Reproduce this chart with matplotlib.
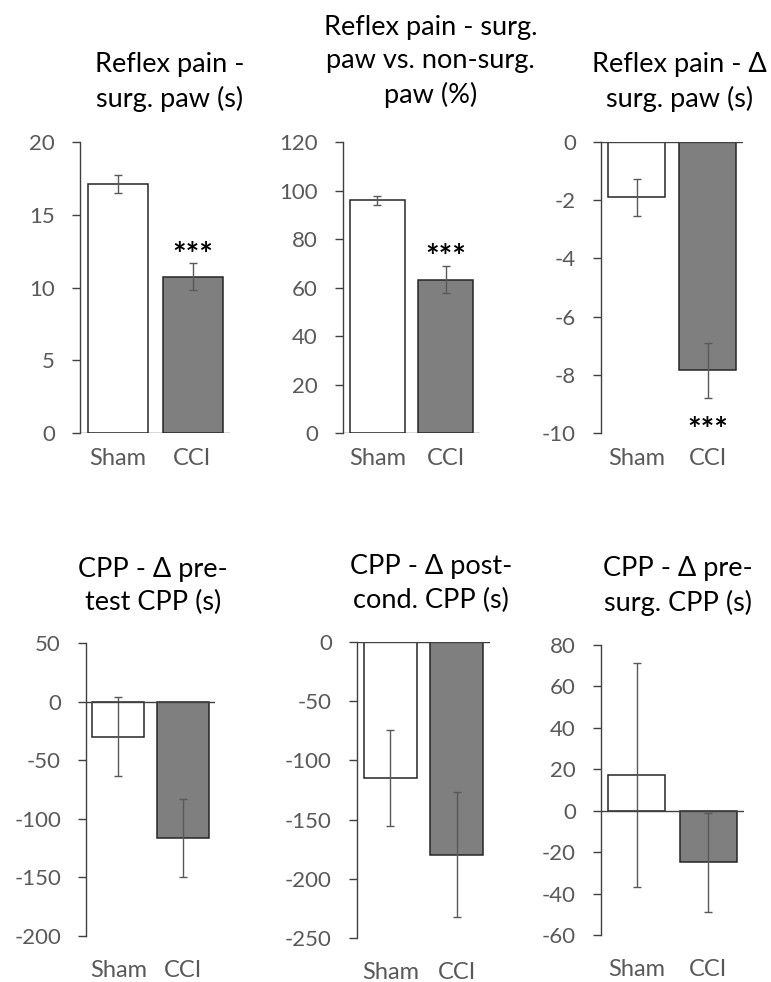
import matplotlib
matplotlib.use('Agg')
import matplotlib.pyplot as plt
import numpy as np

plt.rcParams['font.family'] = ['Lato', 'DejaVu Sans']
plt.rcParams['axes.unicode_minus'] = False

groups = ['Sham', 'CCI']

titles = [
    'Reflex pain -\nsurg. paw (s)',
    'Reflex pain - surg.\npaw vs. non-surg.\npaw (%)',
    'Reflex pain - \u0394\nsurg. paw (s)',
    'CPP - \u0394 pre-\ntest CPP (s)',
    'CPP - \u0394 post-\ncond. CPP (s)',
    'CPP - \u0394 pre-\nsurg. CPP (s)',
]

# mean values (Sham, CCI) and error bars
means = [
    [17.1, 10.75],
    [96.0, 63.2],
    [-1.9, -7.85],
    [-30.0, -116.5],
    [-115.0, -179.5],
    [17.2, -24.9],
]
errors = [
    [0.6, 0.9],
    [1.8, 5.5],
    [0.64, 0.94],
    [33.5, 33.0],
    [40.5, 52.5],
    [54.0, 24.0],
]
signif = ['***', '***', '***', '', '', '']

y_limits = [(0, 20), (0, 120), (-10, 0), (-200, 50), (-250, 0), (-60, 80)]
y_steps = [5, 20, 2, 50, 50, 20]

# axes boxes in pixels: left, right, top, bottom
boxes = [
    (80, 230, 142, 433),
    (343, 480, 142, 433),
    (601, 743, 142, 433),
    (86, 215, 643, 936),
    (357, 490, 642, 938),
    (601, 744, 645, 935),
]
title_x = [0.60, 0.64, 0.55, 0.52, 0.556, 0.54]
title_pad = [25.5, 28, 25.5, 23.5, 24.5, 24.5]

W, H = 771, 982
fig = plt.figure(figsize=(W / 100, H / 100), dpi=100)

axis_col = '#404040'
text_col = '#595959'

for i in range(6):
    l, r, t, b = boxes[i]
    ax = fig.add_axes([l / W, 1 - b / H, (r - l) / W, (b - t) / H])
    x = np.arange(len(groups))
    ax.bar(x, means[i], width=0.8, color=['white', '#7f7f7f'],
           edgecolor='#262626', linewidth=1.1, zorder=2)
    ax.errorbar(x, means[i], yerr=errors[i], fmt='none', ecolor='#595959',
                elinewidth=1.0, capsize=3, capthick=1.0, zorder=3)
    ax.axhline(0, color=axis_col, linewidth=1.0, zorder=4)

    ax.set_xlim(-0.5, 1.5)
    lo, hi = y_limits[i]
    ax.set_ylim(lo, hi)
    ticks = np.arange(lo, hi + 0.1, y_steps[i])
    ax.set_yticks(ticks)
    ax.set_yticklabels([f'{v:g}' for v in ticks])

    for s in ['top', 'right', 'bottom']:
        ax.spines[s].set_visible(False)
    ax.spines['left'].set_color(axis_col)
    ax.spines['left'].set_linewidth(1.0)

    ax.tick_params(axis='y', direction='out', length=6, width=1.0,
                   color=axis_col, labelcolor=text_col, labelsize=16, pad=12)
    ax.set_xticks(x)
    ax.set_xticklabels(groups)
    ax.tick_params(axis='x', length=0, labelcolor=text_col, labelsize=17,
                   pad=11 if i < 3 else 17)

    ax.set_title(titles[i], fontsize=19.5, color='black', x=title_x[i],
                 pad=title_pad[i], linespacing=1.42)

    if signif[i]:
        m, e = means[i][1], errors[i][1]
        if m >= 0:
            ax.annotate(signif[i], xy=(1, m + e), xytext=(0, -1.5),
                        textcoords='offset points', ha='center', va='baseline',
                        fontsize=23, fontweight='bold', color='black')
        else:
            ax.annotate(signif[i], xy=(1, m - e), xytext=(0, -31),
                        textcoords='offset points', ha='center', va='baseline',
                        fontsize=23, fontweight='bold', color='black')

fig.savefig('out.png', dpi=100)
